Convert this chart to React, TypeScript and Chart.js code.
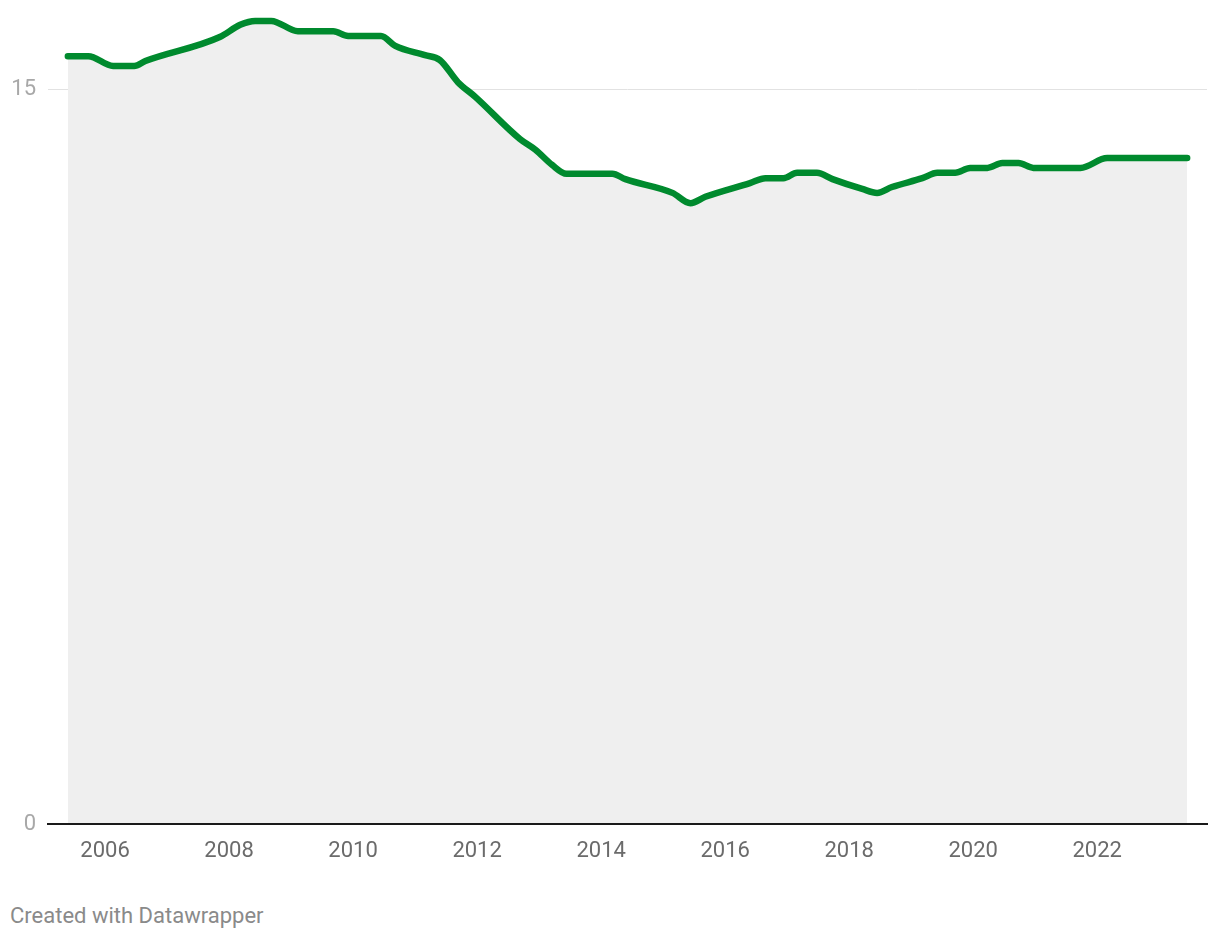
import React, { useEffect, useRef } from "react";
import { Chart, registerables } from "chart.js";

Chart.register(...registerables);

const years: number[] = [
  2005.4, 2005.73, 2006.13, 2006.47, 2006.65, 2007.85, 2008.18, 2008.42, 2008.68,
  2009.11, 2009.68, 2009.92, 2010.45, 2010.68, 2011.16, 2011.4, 2011.69, 2011.97,
  2012.69, 2012.94, 2013.21, 2013.44, 2014.18, 2014.39, 2015.15, 2015.44, 2015.68,
  2016.4, 2016.65, 2016.94, 2017.16, 2017.48, 2017.73, 2018.21, 2018.45, 2018.69,
  2019.18, 2019.42, 2019.71, 2019.95, 2020.23, 2020.47, 2020.73, 2020.97, 2021.73,
  2022.16, 2023.45,
];

const values: number[] = [
  15.67, 15.67, 15.47, 15.47, 15.57, 16.06, 16.31, 16.39, 16.39,
  16.18, 16.18, 16.08, 16.08, 15.88, 15.69, 15.59, 15.14, 14.84,
  13.98, 13.76, 13.45, 13.27, 13.27, 13.16, 12.88, 12.67, 12.8,
  13.08, 13.18, 13.18, 13.29, 13.29, 13.16, 12.96, 12.88, 13.0,
  13.18, 13.29, 13.29, 13.39, 13.39, 13.49, 13.49, 13.39, 13.39,
  13.59, 13.59,
];

const xTickYears: number[] = [2006, 2008, 2010, 2012, 2014, 2016, 2018, 2020, 2022];
const yTickValues: number[] = [0, 15];

export default function App() {
  const ref = useRef<HTMLCanvasElement | null>(null);

  useEffect(() => {
    if (!ref.current) return;
    const chart = new Chart(ref.current, {
      type: "line",
      data: {
        datasets: [
          {
            data: years.map((y, i) => ({ x: y, y: values[i] })),
            borderColor: "#008a2e",
            borderWidth: 6.5,
            borderCapStyle: "round",
            borderJoinStyle: "round",
            backgroundColor: "#efefef",
            fill: "origin",
            pointRadius: 0,
            cubicInterpolationMode: "monotone",
          },
        ],
      },
      options: {
        animation: false,
        responsive: false,
        maintainAspectRatio: false,
        layout: { padding: { top: 15.5, right: 13, left: 0, bottom: 0 } },
        plugins: { legend: { display: false }, tooltip: { enabled: false } },
        scales: {
          x: {
            type: "linear",
            min: 2005.08,
            max: 2023.77,
            afterBuildTicks: (s: any) => {
              s.ticks = xTickYears.map((v) => ({ value: v }));
            },
            afterFit: (s: any) => {
              s.height = 56;
              s.paddingLeft = 0;
              s.paddingRight = 0;
            },
            grid: { display: false, drawTicks: false },
            border: { display: true, color: "#1a1a1a", width: 2, z: 1 },
            ticks: {
              padding: 14,
              color: "#6b6b6b",
              font: { family: "Roboto", size: 22 },
              callback: (v: any) => String(v),
              maxRotation: 0,
              autoSkip: false,
            },
          },
          y: {
            type: "linear",
            min: 0,
            max: 16.5,
            afterBuildTicks: (s: any) => {
              s.ticks = yTickValues.map((v) => ({ value: v }));
            },
            afterFit: (s: any) => {
              s.width = 48;
              s.paddingTop = 0;
              s.paddingBottom = 0;
            },
            grid: {
              drawTicks: false,
              color: (ctx: any) => (ctx.tick && ctx.tick.value === 0 ? "rgba(0,0,0,0)" : "#e2e2e2"),
              lineWidth: 1,
            },
            border: { display: false },
            ticks: {
              padding: 12,
              color: "#a8a8a8",
              font: { family: "Roboto", size: 22 },
              callback: (v: any) => String(v),
            },
          },
        },
      },
    } as any);
    return () => chart.destroy();
  }, []);

  return (
    <div style={{ position: "absolute", left: 0, top: 0, width: 1220, height: 940, background: "#fff" }}>
      <canvas ref={ref} width={1220} height={880} style={{ display: "block" }} />
      <div
        style={{
          position: "absolute",
          left: 10,
          top: 904,
          fontFamily: "Roboto",
          fontSize: 22,
          color: "#8a8a8a",
          lineHeight: "24px",
        }}
      >
        Created with Datawrapper
      </div>
    </div>
  );
}
